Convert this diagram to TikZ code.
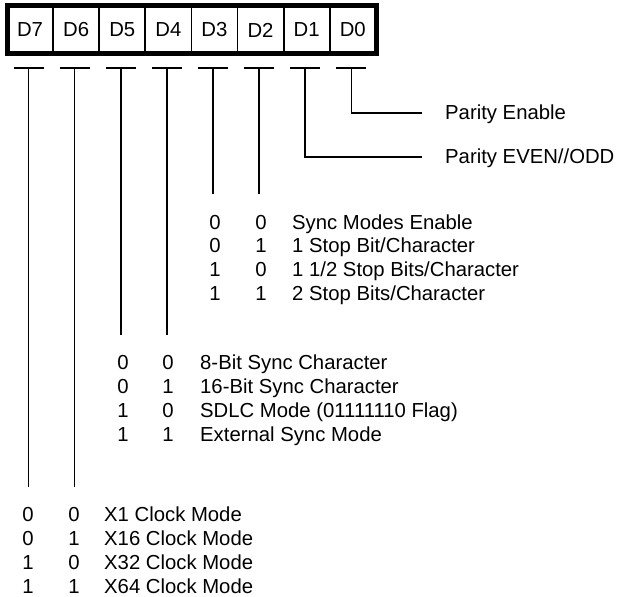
\documentclass[tikz,border=0pt]{standalone}
\usepackage{fontspec}
\setmainfont{Liberation Sans}
\begin{document}
\begin{tikzpicture}[x=1pt,y=-1pt,
  txt/.style={inner sep=0pt, font=\fontsize{20.3}{20.3}\selectfont},
  cell/.style={txt, draw, line width=1.8pt, minimum width=46.1pt, minimum height=48pt, anchor=center},
  bit/.style={txt, anchor=base},
  lbl/.style={txt, anchor=base west},
  wire/.style={line width=1.5pt},
  bar/.style={line width=1.5pt}]
\useasboundingbox (0,0) rectangle (628,596);
% register
\foreach \n [count=\i from 0] in {7,6,5,4,3,2,1,0}{
  \node[cell] (d\n) at ({30.05+46.1*\i},30) {D\n};
  \coordinate (t\n) at ({30.05+46.1*\i-1.5},68);
  \draw[bar] ([xshift=-15pt]t\n) -- ([xshift=15pt]t\n);
}
\draw[line width=5pt] (7,6) rectangle (376,54);
% D0, D1
\node[lbl] (pe) at (445,120) {Parity Enable};
\node[lbl] (po) at (445,164) {Parity EVEN//ODD};
\coordinate (pe0) at (422,113);
\coordinate (po0) at (422,157);
\draw[wire] (t0) |- (pe0);
\draw[wire] (t1) |- (po0);
% D3, D2
\foreach \a/\b/\t [count=\r from 0] in {0/0/{Sync Modes Enable},0/1/{1 Stop Bit/Character},1/0/{1 1/2 Stop Bits/Character},1/1/{2 Stop Bits/Character}}{
  \node[bit] (s\r a) at (215,{229+23.7*\r}) {\a};
  \node[bit] (s\r b) at (261,{229+23.7*\r}) {\b};
  \node[lbl] (s\r t) at (292,{229+23.7*\r}) {\t};
}
\coordinate (e3) at (t3 |- 0,194);
\coordinate (e2) at (t2 |- 0,194);
\draw[wire] (t3) -- (e3);
\draw[wire] (t2) -- (e2);
% D5, D4
\foreach \a/\b/\t [count=\r from 0] in {0/0/{8-Bit Sync Character},0/1/{16-Bit Sync Character},1/0/{SDLC Mode (01111110 Flag)},1/1/{External Sync Mode}}{
  \node[bit] (c\r a) at (123,{369+24*\r}) {\a};
  \node[bit] (c\r b) at (168,{369+24*\r}) {\b};
  \node[lbl] (c\r t) at (200,{369+24*\r}) {\t};
}
\coordinate (e5) at (t5 |- 0,335);
\coordinate (e4) at (t4 |- 0,335);
\draw[wire] (t5) -- (e5);
\draw[wire] (t4) -- (e4);
% D7, D6
\foreach \a/\b/\t [count=\r from 0] in {0/0/{X1 Clock Mode},0/1/{X16 Clock Mode},1/0/{X32 Clock Mode},1/1/{X64 Clock Mode}}{
  \node[bit] (k\r a) at (28,{521+24*\r}) {\a};
  \node[bit] (k\r b) at (74,{521+24*\r}) {\b};
  \node[lbl] (k\r t) at (104,{521+24*\r}) {\t};
}
\coordinate (e7) at (t7 |- 0,487);
\coordinate (e6) at (t6 |- 0,487);
\draw[wire] (t7) -- (e7);
\draw[wire] (t6) -- (e6);
\end{tikzpicture}
\end{document}
